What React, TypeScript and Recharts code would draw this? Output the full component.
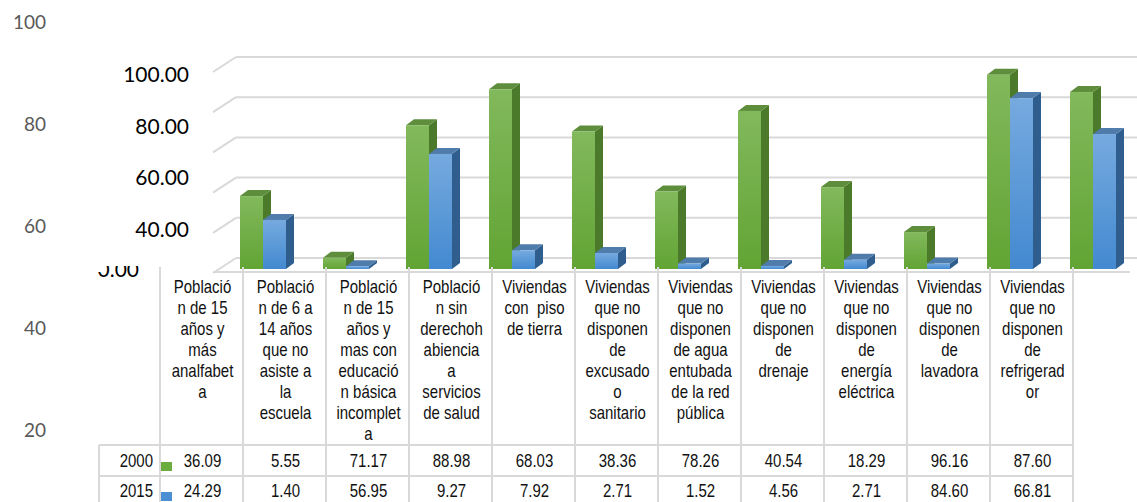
import React from 'react';
import { BarChart, Bar, XAxis, YAxis } from 'recharts';

const categories = [
  'Población de 15 años y más analfabeta',
  'Población de 6 a 14 años que no asiste a la escuela',
  'Población de 15 años y mas con educación básica incompleta',
  'Población sin derechohabiencia a servicios de salud',
  'Viviendas con  piso de tierra',
  'Viviendas que no disponen de excusado o sanitario',
  'Viviendas que no disponen de agua entubada de la red pública',
  'Viviendas que no disponen de drenaje',
  'Viviendas que no disponen de energía eléctrica',
  'Viviendas que no disponen de lavadora',
  'Viviendas que no disponen de refrigerador',
];

const headerLines: string[][] = [
  ['Població', 'n de 15', 'años y', 'más', 'analfabet', 'a'],
  ['Població', 'n de 6 a', '14 años', 'que no', 'asiste a', 'la', 'escuela'],
  ['Població', 'n de 15', 'años y', 'mas con', 'educació', 'n básica', 'incomplet', 'a'],
  ['Població', 'n sin', 'derechoh', 'abiencia', 'a', 'servicios', 'de salud'],
  ['Viviendas', 'con  piso', 'de tierra'],
  ['Viviendas', 'que no', 'disponen', 'de', 'excusado', 'o', 'sanitario'],
  ['Viviendas', 'que no', 'disponen', 'de agua', 'entubada', 'de la red', 'pública'],
  ['Viviendas', 'que no', 'disponen', 'de', 'drenaje'],
  ['Viviendas', 'que no', 'disponen', 'de', 'energía', 'eléctrica'],
  ['Viviendas', 'que no', 'disponen', 'de', 'lavadora'],
  ['Viviendas', 'que no', 'disponen', 'de', 'refrigerad', 'or'],
];

const seriesNames = ['2000', '2015'];
const values2000 = [36.09, 5.55, 71.17, 88.98, 68.03, 38.36, 78.26, 40.54, 18.29, 96.16, 87.6];
const values2015 = [24.29, 1.4, 56.95, 9.27, 7.92, 2.71, 1.52, 4.56, 2.71, 84.6, 66.81];
const axisTicks = [100, 80, 60, 40];
const strayTicks = [100, 80, 60, 40, 20];
const gridValues = [0, 20, 40, 60, 80, 100];

const data = categories.map((c, i) => ({ cat: c, v2000: values2000[i], v2015: values2015[i] }));

const W = 1137;
const H = 502;
const LINE = '#d9d9d9';
const TABLE_FONT = '"Liberation Sans", Arial, sans-serif';
const AXIS_FONT = 'Lato, "Open Sans", sans-serif';
const STRETCH = 1.2;

const colLeft = 160;
const colW = 83;

const DX = 8;
const DY = 6;

function Bar3D(props: any) {
  const { x, y, width, height, kind } = props;
  if (width == null || height == null) return null;
  const w = width;
  const h = Math.max(height, 0);
  const front = kind === 'g' ? 'url(#gFront)' : 'url(#bFront)';
  const side = kind === 'g' ? '#4b7a2b' : '#2f5e8e';
  const top = kind === 'g' ? '#5e8e3c' : '#4f7cab';
  return (
    <g>
      <polygon
        points={`${x + w},${y} ${x + w + DX},${y - DY} ${x + w + DX},${y + h - DY} ${x + w},${y + h}`}
        fill={side}
      />
      <polygon
        points={`${x},${y} ${x + DX},${y - DY} ${x + w + DX},${y - DY} ${x + w},${y}`}
        fill={top}
      />
      <rect x={x} y={y} width={w} height={h} fill={front} />
    </g>
  );
}

function AxisTick(props: any) {
  const { y, payload } = props;
  return (
    <text x={189} y={y} dy="0.36em" textAnchor="end" fontFamily={AXIS_FONT} fontSize={21} fill="#000">
      {Number(payload.value).toFixed(2)}
    </text>
  );
}

function TText(props: { x: number; y: number; anchor?: 'start' | 'middle' | 'end'; children: any }) {
  const { x, y, anchor = 'middle', children } = props;
  return (
    <text
      transform={`translate(${x},${y}) scale(1,${STRETCH})`}
      textAnchor={anchor}
      fontFamily={TABLE_FONT}
      fontSize={15}
      fill="#111"
      style={{ whiteSpace: 'pre' }}
    >
      {children}
    </text>
  );
}

export default function App() {
  const backY = (v: number) => 258 - v * 2.01;
  return (
    <div style={{ position: 'absolute', left: 0, top: 0, width: W, height: H, background: '#fff', overflow: 'hidden' }}>
      <svg width={W} height={H} style={{ position: 'absolute', left: 0, top: 0 }}>
        {gridValues.map((v) => (
          <g key={v}>
            <line x1={236} y1={backY(v)} x2={W} y2={backY(v)} stroke={LINE} strokeWidth={2} />
            <line x1={213} y1={backY(v) + 15} x2={236} y2={backY(v)} stroke={LINE} strokeWidth={2} />
          </g>
        ))}
        <line x1={213} y1={272} x2={1130} y2={272} stroke={LINE} strokeWidth={2} />
        {strayTicks.map((v) => (
          <text key={v} x={46} y={22 + (100 - v) * 5.1} dy="0.36em" textAnchor="end" fontFamily={AXIS_FONT} fontSize={19} fill="#595959">
            {v}
          </text>
        ))}
      </svg>
      <div style={{ position: 'absolute', left: 0, top: 0 }}>
        <BarChart width={W} height={H} data={data} margin={{ top: 67, right: 3, bottom: 233, left: 161 }} barGap={0} barSize={23}>
          <defs>
            <linearGradient id="gFront" x1="0" y1="0" x2="0" y2="1">
              <stop offset="0%" stopColor="#82b95c" />
              <stop offset="100%" stopColor="#62a434" />
            </linearGradient>
            <linearGradient id="bFront" x1="0" y1="0" x2="0" y2="1">
              <stop offset="0%" stopColor="#76aadf" />
              <stop offset="100%" stopColor="#4389d0" />
            </linearGradient>
          </defs>
          <XAxis dataKey="cat" hide />
          <YAxis yAxisId="v" hide domain={[0, 100]} type="number" allowDataOverflow />
          <YAxis
            yAxisId="lbl"
            width={60}
            type="number"
            domain={[24.7, 102.9]}
            allowDataOverflow
            ticks={axisTicks}
            axisLine={false}
            tickLine={false}
            tick={<AxisTick />}
          />
          <Bar yAxisId="v" dataKey="v2000" name={seriesNames[0]} isAnimationActive={false} shape={(p: any) => <Bar3D {...p} kind="g" />} />
          <Bar yAxisId="v" dataKey="v2015" name={seriesNames[1]} isAnimationActive={false} shape={(p: any) => <Bar3D {...p} kind="b" />} />
        </BarChart>
      </div>
      <svg width={W} height={H} style={{ position: 'absolute', left: 0, top: 0, pointerEvents: 'none' }}>
        <defs>
          <clipPath id="zeroClip">
            <polygon points="80,272 105,272 105,266 160,266 160,290 80,290" />
          </clipPath>
        </defs>
        <g clipPath="url(#zeroClip)">
          <text x={139} y={277} textAnchor="end" fontFamily={AXIS_FONT} fontSize={21} fill="#000">
            0.00
          </text>
        </g>
        {Array.from({ length: categories.length + 1 }).map((_, i) => (
          <line key={i} x1={colLeft + i * colW} y1={267} x2={colLeft + i * colW} y2={H} stroke={LINE} strokeWidth={2} />
        ))}
        <line x1={99} y1={445} x2={99} y2={H} stroke={LINE} strokeWidth={2} />
        <line x1={99} y1={445} x2={colLeft + categories.length * colW} y2={445} stroke={LINE} strokeWidth={2} />
        <line x1={99} y1={476} x2={colLeft + categories.length * colW} y2={476} stroke={LINE} strokeWidth={2} />
        {headerLines.map((lines, i) => (
          <g key={i}>
            {lines.map((l, j) => (
              <TText key={j} x={colLeft + i * colW + colW / 2 + 1} y={293 + j * 21}>
                {l}
              </TText>
            ))}
          </g>
        ))}
        {[values2000, values2015].map((vals, r) => (
          <g key={r}>
            <TText x={153} y={467 + r * 30} anchor="end">
              {seriesNames[r]}
            </TText>
            <rect x={161} y={462 + r * 30} width={11} height={9} fill={r === 0 ? '#6aac3e' : '#4a8fd4'} />
            {vals.map((v, i) => (
              <TText key={i} x={colLeft + i * colW + colW / 2 + 1} y={467 + r * 30}>
                {v.toFixed(2)}
              </TText>
            ))}
          </g>
        ))}
      </svg>
    </div>
  );
}
